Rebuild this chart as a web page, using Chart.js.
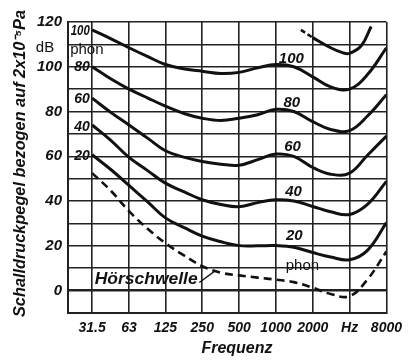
<!DOCTYPE html>
<html><head><meta charset="utf-8">
<script src="https://cdn.jsdelivr.net/npm/chart.js@4"></script>
<style>html,body{margin:0;padding:0;background:#fff}canvas{display:block}</style>
</head><body>
<canvas id="c" width="409" height="362"></canvas>
<script>
// ---- data ----
const frequencies = [31.5, 45, 63, 90, 125, 180, 250, 355, 500, 710, 1000, 1400, 2000, 2800, 4000, 5600, 8000];
const phon100 = [116.5, 112.5, 108.5, 104.5, 101, 99, 98, 97, 97.5, 99.5, 101, 100, 95.5, 91, 90, 96.5, 108.5];
const phon80  = [100, 94.5, 90, 86, 82.4, 79, 77, 76, 77, 78.6, 81, 80, 75.5, 72, 71.5, 78, 87.5];
const phon60  = [86, 79.5, 74, 68, 62.5, 59.5, 57.7, 56.5, 56, 58.5, 61, 60, 55, 52, 52.5, 60.5, 69];
const phon40  = [74, 67, 59.5, 53.5, 48, 44, 40.6, 38.5, 37.5, 39.3, 40.6, 40, 37.6, 35.2, 34, 38.5, 48.8];
const phon20  = [60.7, 54, 47, 39.5, 32.5, 28, 24.3, 21.8, 20.1, 20, 20.1, 19.4, 17, 15, 13.8, 18, 30.4];
const threshold = [52.5, 44.5, 35.5, 27.5, 21.2, 15.5, 10.9, 8, 6.8, 5.8, 4.9, 3.8, 1.3, -1.5, -2.5, 5, 17.5];
const topDashedFreqs = [1600, 2000];
const topDashed = [116.5, 113];
const topSolidFreqs = [2000, 2800, 3500, 4000, 5000, 6000];
const topSolid = [113, 108.5, 106.3, 106, 109.5, 118];
const tickFrequencies = [20, 31.5, 63, 125, 250, 500, 1000, 2000, 4000, 8000];
const tickLabels = ['', '31.5', '63', '125', '250', '500', '1000', '2000', 'Hz', '8000'];
const levelTicks = [-10, 0, 10, 20, 30, 40, 50, 60, 70, 80, 90, 100, 110, 120];
const levelLabels = ['', '0', '', '20', '', '40', '', '60', '', '80', '', '100', '', '120'];

// ---- helpers ----
const oct = f => 5 + Math.log2(f / 1000);
const pts = (fs, vs) => fs.map((f, i) => ({x: oct(f), y: vs[i]}));
const FONT = "'Liberation Sans',Arial,sans-serif";
const solid = (data) => ({data: pts(frequencies, data), borderColor: '#111', borderWidth: 3, pointRadius: 0, tension: 0.4, fill: false});

const datasets = [
  solid(phon100), solid(phon80), solid(phon60), solid(phon40), solid(phon20),
  {data: pts(frequencies, threshold), borderColor: '#111', borderWidth: 2.6, borderDash: [8, 5], pointRadius: 0, tension: 0.4, fill: false},
  {data: pts(topDashedFreqs, topDashed), borderColor: '#111', borderWidth: 2.6, borderDash: [5, 3], pointRadius: 0, fill: false},
  {data: pts(topSolidFreqs, topSolid), borderColor: '#111', borderWidth: 3, pointRadius: 0, tension: 0.4, fill: false}
];

const annotations = [
  {t: '100', x: 0, y: phon100[0] - 0.5, align: 'right', font: 'italic bold 14px ' + FONT, dx: -2, w: 19},
  {t: '80', x: 0, y: phon80[0], align: 'right', font: 'italic bold 14px ' + FONT, dx: -2},
  {t: '60', x: 0, y: phon60[0] - 0.5, align: 'right', font: 'italic bold 14px ' + FONT, dx: -2},
  {t: '40', x: 0, y: phon40[0] - 1, align: 'right', font: 'italic bold 14px ' + FONT, dx: -2},
  {t: '20', x: 0, y: phon20[0] - 0.5, align: 'right', font: 'italic bold 14px ' + FONT, dx: -2},
  {t: 'phon', x: -0.64, y: 107.6, align: 'left', font: '15px ' + FONT, dx: 2},
  {t: '100', x: 5.42, y: 103.6, align: 'center', font: 'italic bold 15px ' + FONT, dx: 0},
  {t: '80', x: 5.43, y: 84, align: 'center', font: 'italic bold 15px ' + FONT, dx: 0},
  {t: '60', x: 5.45, y: 64.3, align: 'center', font: 'italic bold 15px ' + FONT, dx: 0},
  {t: '40', x: 5.48, y: 44.2, align: 'center', font: 'italic bold 15px ' + FONT, dx: 0},
  {t: '20', x: 5.5, y: 24.6, align: 'center', font: 'italic bold 15px ' + FONT, dx: 0},
  {t: 'phon', x: 5.72, y: 11.2, align: 'center', font: '15px ' + FONT, dx: 0},
  {t: 'Hörschwelle', x: 0.08, y: 4.9, align: 'left', font: 'italic bold 16px ' + FONT, dx: 0, w: 103}
];

const textPlugin = {
  id: 'texts',
  afterDraw(chart) {
    const {ctx, scales: {x, y}} = chart;
    ctx.save();
    ctx.fillStyle = '#111';
    ctx.textBaseline = 'middle';
    const draw = (t, px, py, font, align, w) => {
      ctx.save();
      ctx.font = font;
      ctx.textAlign = align;
      ctx.translate(px, py);
      if (w) { const m = ctx.measureText(t).width; ctx.scale(w / m, 1); }
      ctx.fillText(t, 0, 0);
      ctx.restore();
    };
    annotations.forEach(a => draw(a.t, x.getPixelForValue(a.x) + a.dx, y.getPixelForValue(a.y), a.font, a.align, a.w));
    // leader from label to threshold curve
    ctx.strokeStyle = '#111'; ctx.lineWidth = 1.3;
    ctx.beginPath();
    ctx.moveTo(x.getPixelForValue(2.92), y.getPixelForValue(3.6));
    ctx.lineTo(x.getPixelForValue(3.33), y.getPixelForValue(8.6));
    ctx.stroke();
    // dB unit
    draw('dB', chart.chartArea.left - 23, y.getPixelForValue(108.6), '15px ' + FONT, 'center');
    // axis titles
    draw('Frequenz', 237, 349, 'italic bold 16px ' + FONT, 'center', 71);
    ctx.save();
    ctx.translate(21, 163.5);
    ctx.rotate(-Math.PI / 2);
    draw('Schalldruckpegel bezogen auf 2x10\u207B\u2075Pa', 0, 0, 'italic bold 16px ' + FONT, 'center', 307);
    ctx.restore();
    ctx.restore();
  }
};

new Chart(document.getElementById('c'), {
  type: 'line',
  data: {datasets},
  options: {
    responsive: false,
    animation: false,
    devicePixelRatio: 1,
    layout: {padding: {left: 0, right: 18, top: 22, bottom: 0}},
    plugins: {legend: {display: false}, tooltip: {enabled: false}},
    scales: {
      x: {
        type: 'linear', min: oct(20), max: oct(8000),
        afterBuildTicks: s => { s.ticks = tickFrequencies.map(f => ({value: oct(f)})); },
        afterFit: s => { s.height = 49; },
        ticks: {
          autoSkip: false, maxRotation: 0, padding: 7, color: '#111',
          font: {family: FONT, size: 14, style: 'italic', weight: 'bold'},
          callback: (v, i) => tickLabels[i]
        },
        grid: {color: '#222', lineWidth: 1.6, drawTicks: false},
        border: {color: '#222', width: 2}
      },
      y: {
        type: 'linear', min: -10, max: 120,
        afterBuildTicks: s => { s.ticks = levelTicks.map(v => ({value: v})); },
        afterFit: s => { s.width = 68; },
        ticks: {
          autoSkip: false, padding: 6, color: '#111',
          font: {family: FONT, size: 15, style: 'italic', weight: 'bold'},
          callback: (v, i) => levelLabels[i]
        },
        grid: {color: '#222', lineWidth: c => (c.tick && c.tick.value === 0 ? 2.6 : 1.6), drawTicks: false},
        border: {color: '#222', width: 2}
      }
    }
  },
  plugins: [textPlugin]
});
</script>
</body></html>
